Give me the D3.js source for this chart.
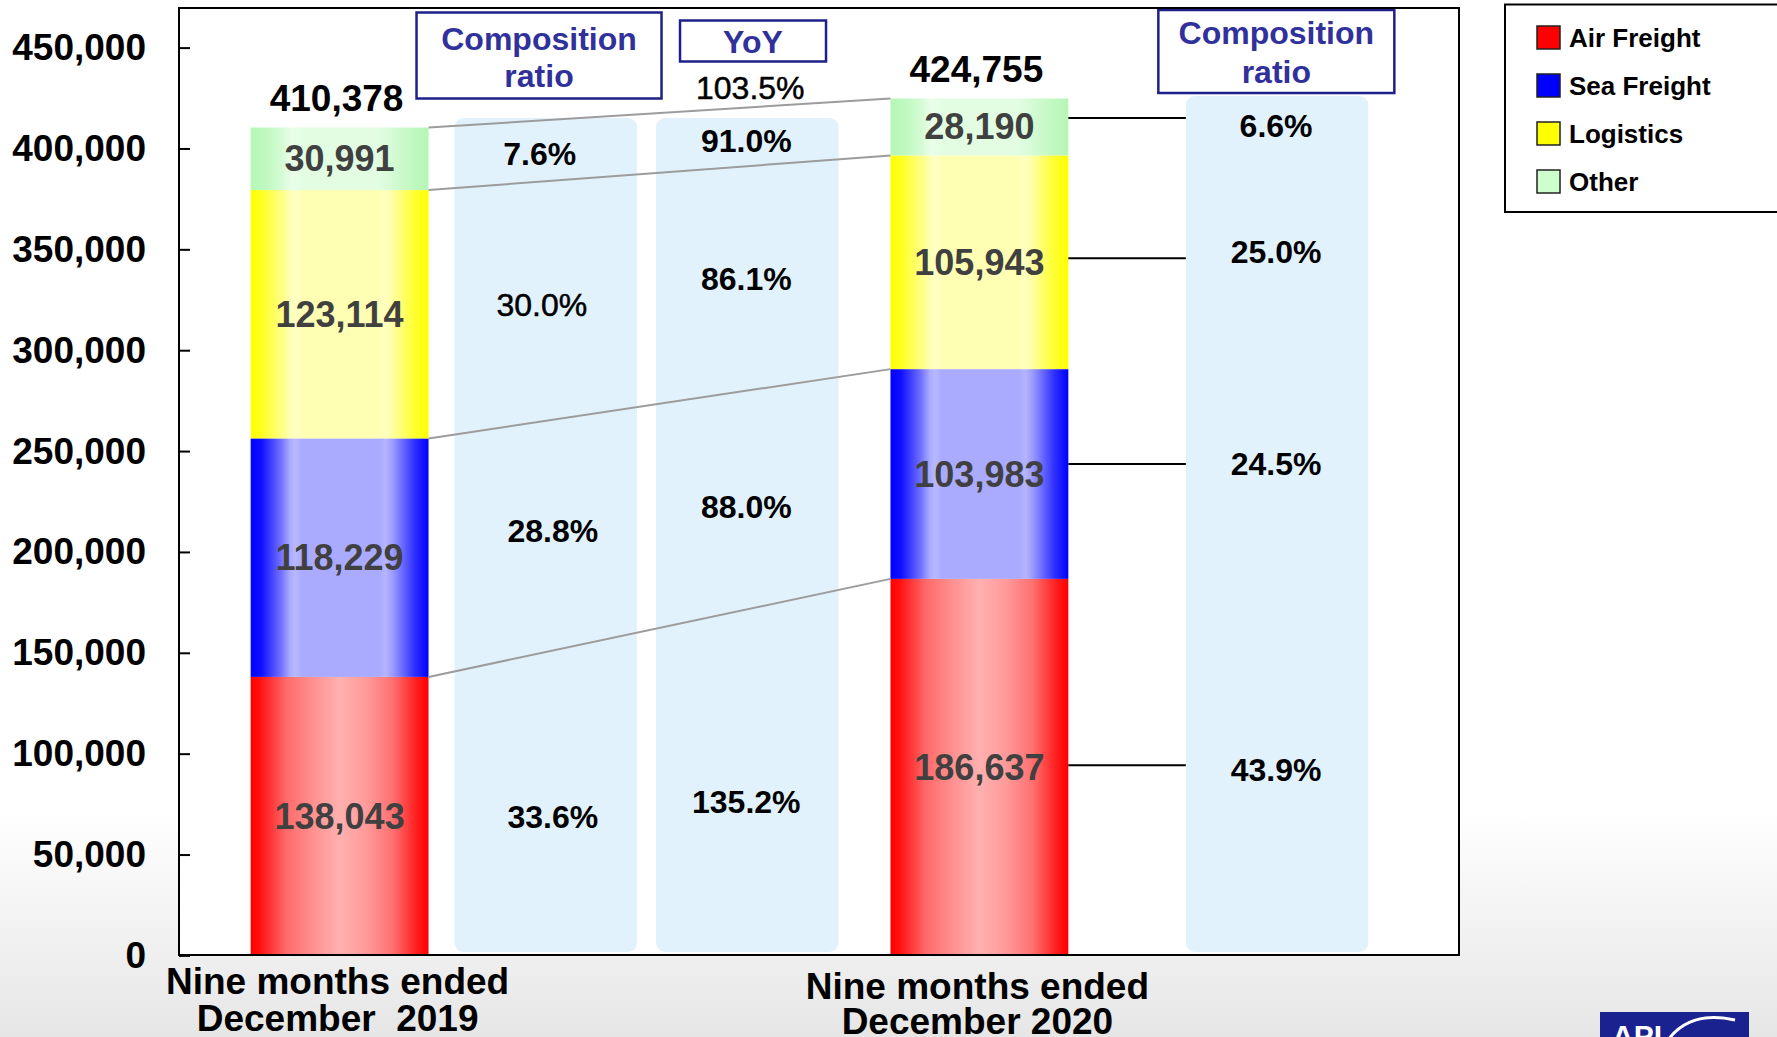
<!DOCTYPE html>
<html>
<head>
<meta charset="utf-8">
<script src="https://cdn.jsdelivr.net/npm/d3@7"></script>
<style>
  html, body { margin: 0; padding: 0; background: #fff; }
  svg { display: block; }
  text { font-family: "Liberation Sans", Arial, Helvetica, sans-serif; }
</style>
</head>
<body>
<svg id="chart" width="1777" height="1037"></svg>
<script>
// ---------------- data ----------------
const categories = [["Nine months ended", "December  2019"], ["Nine months ended", "December 2020"]];
const segments = ["Air Freight", "Sea Freight", "Logistics", "Other"];
const values2019 = [138043, 118229, 123114, 30991];
const values2020 = [186637, 103983, 105943, 28190];
const totals = [410378, 424755];
const ratio2019 = ["33.6%", "28.8%", "30.0%", "7.6%"];
const ratio2020 = ["43.9%", "24.5%", "25.0%", "6.6%"];
const yoyValues = ["135.2%", "88.0%", "86.1%", "91.0%"];
const yoyTotal = "103.5%";
const yTicks = [0, 50000, 100000, 150000, 200000, 250000, 300000, 350000, 400000, 450000];
const headerRatio = ["Composition", "ratio"];
const headerYoY = "YoY";

// ---------------- styles ----------------
const gradStops = [
  [[0, "#ff0000"], [0.05, "#ff1010"], [0.2, "#ff6a6a"], [0.35, "#ff9090"], [0.5, "#ffb0b0"], [0.65, "#ff9a9a"], [0.8, "#ff7070"], [0.94, "#ff1a1a"], [1, "#ff0000"]],
  [[0, "#0000ff"], [0.06, "#1010ff"], [0.17, "#7070ff"], [0.22, "#aaaaff"], [0.25, "#b8b8ff"], [0.29, "#aaaaff"], [0.72, "#aaaaff"], [0.76, "#b4b4ff"], [0.8, "#9a9aff"], [0.92, "#3030ff"], [1, "#0000ff"]],
  [[0, "#ffff00"], [0.06, "#ffff20"], [0.17, "#ffff80"], [0.22, "#ffffb0"], [0.25, "#ffffc8"], [0.29, "#ffffb4"], [0.72, "#ffffb4"], [0.76, "#ffffc0"], [0.8, "#ffffa0"], [0.92, "#ffff30"], [1, "#ffff00"]],
  [[0, "#b6f6b6"], [0.08, "#bff8bf"], [0.18, "#d6fbd6"], [0.23, "#eafeea"], [0.3, "#e2fde2"], [0.72, "#e2fde2"], [0.8, "#d4fbd4"], [0.92, "#bff8bf"], [1, "#b6f6b6"]]
];
const swatchColors = ["#ff0000", "#0000ff", "#ffff00", "#ccffcc"];
const navy = "#1f1f8a", navyText = "#31319b", colBlue = "#e2f2fd";
// small pixel nudges for annotation text (style only)
const nudgeA = [1, -27, -9, -5], dxA = [7, 7, -4, -6];
const nudgeY = [10, -9, -9, -2];
const nudgeC = [3, -10, -10, -1];
const lineNudge = [-2, -10, -4, -9];
const boldA = [true, true, false, true];

const svg = d3.select("#chart");
const defs = svg.append("defs");

// background gradient (slide)
const bg = defs.append("linearGradient").attr("id", "bg").attr("x1", 0).attr("y1", 0).attr("x2", 0).attr("y2", 1);
bg.append("stop").attr("offset", "0.78").attr("stop-color", "#ffffff");
bg.append("stop").attr("offset", "1").attr("stop-color", "#e6e6e6");
svg.append("rect").attr("width", 1777).attr("height", 1037).attr("fill", "url(#bg)");

segments.forEach((s, i) => {
  const g = defs.append("linearGradient").attr("id", "grad" + i).attr("x1", 0).attr("x2", 1).attr("y1", 0).attr("y2", 0);
  gradStops[i].forEach(([o, c]) => g.append("stop").attr("offset", o).attr("stop-color", c));
});

// ---------------- scales ----------------
const frame = { left: 179, right: 1459, top: 8, bottom: 955 };
const y = d3.scaleLinear().domain([0, 450000]).range([955.4, 47.6]);
const x = d3.scaleBand().domain([0, 1]).range([179, 1140]).paddingInner(0.722).paddingOuter(0.112);
const bw = x.bandwidth();

// plot area
svg.append("rect").attr("x", frame.left).attr("y", frame.top)
  .attr("width", frame.right - frame.left).attr("height", frame.bottom - frame.top)
  .attr("fill", "#fff");

// annotation columns
const colW = 182.5;
const colAx = x(0) + bw + 26, colBx = colAx + colW + 19, colCx = x(1) + bw + 117.5;
[[colAx, 118], [colBx, 118], [colCx, 96]].forEach(([cx, top]) => {
  svg.append("rect").attr("x", cx).attr("y", top).attr("width", colW).attr("height", 952 - top)
    .attr("rx", 9).attr("fill", colBlue);
});

// stacked data
const stackData = [values2019, values2020].map(v => {
  const o = {}; segments.forEach((s, i) => o[s] = v[i]); return o;
});
const series = d3.stack().keys(segments)(stackData);

// bars
series.forEach((ser, si) => {
  svg.selectAll(null).data(ser).enter().append("rect")
    .attr("x", (d, i) => x(i)).attr("width", bw)
    .attr("y", d => y(d[1])).attr("height", d => y(d[0]) - y(d[1]))
    .attr("fill", `url(#grad${si})`);
});

// gray connector lines between bars at stack boundaries
series.forEach(ser => {
  svg.append("line")
    .attr("x1", x(0) + bw).attr("y1", y(ser[0][1]))
    .attr("x2", x(1)).attr("y2", y(ser[1][1]))
    .attr("stroke", "#9c9c9c").attr("stroke-width", 2);
});

// black leader lines bar2 -> column C
series.forEach((ser, si) => {
  const my = y((ser[1][0] + ser[1][1]) / 2) + lineNudge[si];
  svg.append("line").attr("x1", x(1) + bw).attr("x2", colCx).attr("y1", my).attr("y2", my)
    .attr("stroke", "#000").attr("stroke-width", 2);
});

// bar value labels
const fmt = d3.format(",");
series.forEach((ser, si) => {
  svg.selectAll(null).data(ser).enter().append("text")
    .attr("x", (d, i) => x(i) + bw / 2)
    .attr("y", d => y((d[0] + d[1]) / 2))
    .attr("text-anchor", "middle").attr("dominant-baseline", "central")
    .attr("font-size", 36).attr("font-weight", "bold").attr("fill", "#404040")
    .text(d => fmt(d[1] - d[0]));
});

// totals
totals.forEach((t, i) => {
  svg.append("text").attr("x", x(i) + bw / 2 - 3).attr("y", y(t) - 29)
    .attr("text-anchor", "middle").attr("dominant-baseline", "central")
    .attr("font-size", 37).attr("font-weight", "bold").attr("fill", "#000").text(fmt(t));
});

// composition ratio 2019 (column A)
series.forEach((ser, si) => {
  svg.append("text").attr("x", colAx + colW / 2 + dxA[si])
    .attr("y", y((ser[0][0] + ser[0][1]) / 2) + nudgeA[si])
    .attr("text-anchor", "middle").attr("dominant-baseline", "central")
    .attr("font-size", 32).attr("font-weight", boldA[si] ? "bold" : "normal").attr("fill", "#000")
    .attr("stroke", boldA[si] ? "none" : "#000").attr("stroke-width", 0.5)
    .text(ratio2019[si]);
});
// YoY (column B)
series.forEach((ser, si) => {
  const m = (y((ser[0][0] + ser[0][1]) / 2) + y((ser[1][0] + ser[1][1]) / 2)) / 2;
  svg.append("text").attr("x", colBx + colW / 2 - 1).attr("y", m + nudgeY[si])
    .attr("text-anchor", "middle").attr("dominant-baseline", "central")
    .attr("font-size", 32).attr("font-weight", "bold").attr("fill", "#000")
    .text(yoyValues[si]);
});
// composition ratio 2020 (column C)
series.forEach((ser, si) => {
  svg.append("text").attr("x", colCx + colW / 2 - 1)
    .attr("y", y((ser[1][0] + ser[1][1]) / 2) + nudgeC[si])
    .attr("text-anchor", "middle").attr("dominant-baseline", "central")
    .attr("font-size", 32).attr("font-weight", "bold").attr("fill", "#000")
    .text(ratio2020[si]);
});

// header boxes
function headerBox(bx, by, w, h, lines, cy) {
  svg.append("rect").attr("x", bx).attr("y", by).attr("width", w).attr("height", h)
    .attr("fill", "#fff").attr("stroke", navy).attr("stroke-width", 2.5);
  lines.forEach((t, i) => {
    svg.append("text").attr("x", bx + w / 2).attr("y", cy[i])
      .attr("text-anchor", "middle").attr("dominant-baseline", "central")
      .attr("font-size", 32).attr("font-weight", "bold").attr("fill", navyText).text(t);
  });
}
headerBox(colAx - 38, 12.5, 245, 86, headerRatio, [38.5, 76]);
headerBox(colBx + 24, 20.5, 146, 41, [headerYoY], [42]);
headerBox(colCx - 27.5, 10, 236, 83, headerRatio, [33, 71.5]);

// YoY total
svg.append("text").attr("x", colBx + colW / 2 + 3).attr("y", 87.5)
  .attr("text-anchor", "middle").attr("dominant-baseline", "central")
  .attr("font-size", 32).attr("font-weight", "normal").attr("fill", "#000")
  .attr("stroke", "#000").attr("stroke-width", 0.5).text(yoyTotal);

// frame
svg.append("rect").attr("x", frame.left).attr("y", frame.top)
  .attr("width", frame.right - frame.left).attr("height", frame.bottom - frame.top)
  .attr("fill", "none").attr("stroke", "#000").attr("stroke-width", 2);

// y axis
const yAxis = d3.axisRight(y).tickValues(yTicks).tickSize(11).tickFormat("");
const ga = svg.append("g").attr("transform", `translate(${frame.left},0)`).call(yAxis);
ga.select(".domain").remove();
ga.selectAll(".tick line").attr("stroke", "#000").attr("stroke-width", 2);
svg.selectAll(null).data(yTicks).enter().append("text")
  .attr("x", 146).attr("y", d => y(d))
  .attr("text-anchor", "end").attr("dominant-baseline", "central")
  .attr("font-size", 37).attr("font-weight", "bold").attr("fill", "#000")
  .text(d => fmt(d));

// category labels
const catY = [[981, 1018], [986, 1021]];
categories.forEach((lines, i) => {
  lines.forEach((t, j) => {
    svg.append("text").attr("x", x(i) + bw / 2 - 2).attr("y", catY[i][j])
      .attr("text-anchor", "middle").attr("dominant-baseline", "central")
      .attr("font-size", 37).attr("font-weight", "bold").attr("fill", "#000")
      .style("white-space", "pre").text(t);
  });
});

// legend
svg.append("rect").attr("x", 1505).attr("y", 4.5).attr("width", 300).attr("height", 207.5)
  .attr("fill", "#fff").attr("stroke", "#000").attr("stroke-width", 2);
segments.forEach((s, i) => {
  const cy = 37.5 + i * 48;
  svg.append("rect").attr("x", 1537).attr("y", cy - 11.5).attr("width", 23).attr("height", 23)
    .attr("fill", swatchColors[i]).attr("stroke", "#222").attr("stroke-width", 1.5);
  svg.append("text").attr("x", 1569).attr("y", cy).attr("dominant-baseline", "central")
    .attr("font-size", 26).attr("font-weight", "bold").attr("fill", "#000").text(s);
});

// logo fragment (bottom right)
svg.append("rect").attr("x", 1600).attr("y", 1012).attr("width", 149).attr("height", 30).attr("fill", "#1a2290");
svg.append("text").attr("x", 1612).attr("y", 1046).attr("font-size", 30).attr("font-weight", "bold")
  .attr("fill", "#fff").text("API");
svg.append("path").attr("d", "M1668,1040 Q1690,1010 1735,1020").attr("fill", "none")
  .attr("stroke", "#fff").attr("stroke-width", 3);
</script>
</body>
</html>
